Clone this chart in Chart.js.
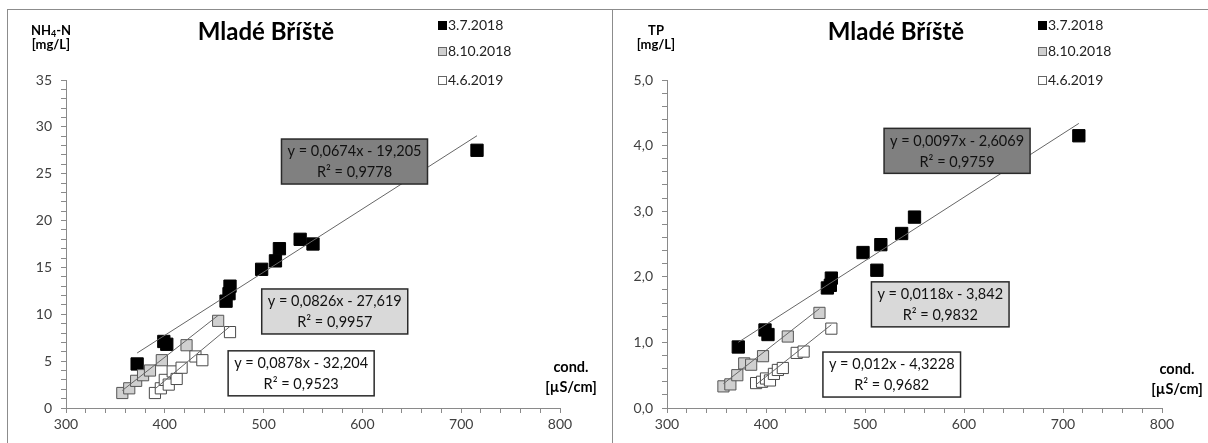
<!DOCTYPE html>
<html>
<head>
<meta charset="utf-8">
<script src="https://cdn.jsdelivr.net/npm/chart.js@4.4.1/dist/chart.umd.min.js"></script>
<style>
  body { margin: 0; background: #fff; width: 1208px; height: 443px; overflow: hidden; position: relative; }
  .panel { position: absolute; top: 9px; height: 440px; border-left: 1px solid #8c8c8c; border-top: 1px solid #8c8c8c; }
  #p1 { left: 7px; width: 604px; }
  #p2 { left: 612px; width: 600px; }
  canvas { position: absolute; left: 0; top: 0; }
</style>
</head>
<body>
<div class="panel" id="p1"><canvas id="c1" width="603" height="433"></canvas></div>
<div class="panel" id="p2"><canvas id="c2" width="595" height="433"></canvas></div>
<script>
// series (sampling dates) and conductivity / concentration readings
const seriesNames = ['3.7.2018', '8.10.2018', '4.6.2019'];

const condBlack = [372, 399, 402, 462, 465, 466, 498, 512, 516, 537, 550, 716];
const nh4Black  = [4.7, 7.1, 6.8, 11.4, 12.2, 13.0, 14.8, 15.7, 17.0, 18.0, 17.5, 27.5];
const tpBlack   = [0.93, 1.19, 1.12, 1.83, 1.87, 1.98, 2.37, 2.10, 2.49, 2.66, 2.91, 4.15];

const condGray = [357, 364, 371, 378, 385, 397, 422, 454];
const nh4Gray  = [1.6, 2.1, 2.9, 3.5, 4.0, 5.1, 6.7, 9.3];
const tpGray   = [0.33, 0.36, 0.50, 0.68, 0.66, 0.79, 1.09, 1.45];

const condWhite = [390, 396, 400, 404, 408, 412, 417, 431, 438, 466];
const nh4White  = [1.6, 2.1, 3.0, 2.5, 3.9, 3.1, 4.3, 5.5, 5.1, 8.1];
const tpWhite   = [0.38, 0.40, 0.45, 0.42, 0.52, 0.58, 0.61, 0.84, 0.86, 1.21];

// linear fits as printed in the chart
const nh4Slope = [0.0674, 0.0826, 0.0878];
const nh4Icpt  = [-19.205, -27.619, -32.204];
const nh4R2    = [0.9778, 0.9957, 0.9523];
const tpSlope  = [0.0097, 0.0118, 0.012];
const tpIcpt   = [-2.6069, -3.842, -4.3228];
const tpR2     = [0.9759, 0.9832, 0.9682];

// tick labels
const xMajor   = [300, 400, 500, 600, 700, 800];
const nh4Major = [0, 5, 10, 15, 20, 25, 30, 35];
const tpMajor  = [0, 1, 2, 3, 4, 5];

const FONT = 'Lato, "Open Sans", sans-serif';
const fills = ['#000000', '#d0d0d0', '#ffffff'];
const edges = ['#000000', '#555555', '#4a4a4a'];
const boxFills = ['#808080', '#d9d9d9', '#ffffff'];
const legendRows = [25, 51, 80];

const comma = n => String(n).replace('.', ',');

function scatterSet(xs, ys, i) {
    const r = i === 0 ? 8.7 : 7.9;
    return {
        type: 'scatter',
        label: seriesNames[i],
        data: xs.map((x, k) => ({ x, y: ys[k] })),
        pointStyle: 'rect',
        pointRadius: r,
        pointHoverRadius: r,
        backgroundColor: fills[i],
        borderColor: edges[i],
        borderWidth: 1,
        order: 3 - i
    };
}

function trendSet(xs, slope, icpt) {
    const a = Math.min(...xs), b = Math.max(...xs);
    return {
        type: 'line',
        data: [{ x: a, y: slope * a + icpt }, { x: b, y: slope * b + icpt }],
        borderColor: '#666666',
        borderWidth: 1,
        pointRadius: 0,
        fill: false,
        order: 0
    };
}

function makeDecor(g) {
    return {
        id: 'decor',
        afterDraw(chart) {
            const ctx = chart.ctx;
            const px = x => x - g.ox, py = y => y - g.oy;
            const xs = chart.scales.x, ys = chart.scales.y;
            ctx.save();
            ctx.fillStyle = '#000';
            ctx.textBaseline = 'middle';

            // title
            ctx.textAlign = 'center';
            ctx.font = 'bold 24px ' + FONT;
            ctx.fillText('Mladé Bříště', px(g.titleX), py(32));

            // y-axis title
            ctx.font = 'bold 13px ' + FONT;
            if (g.sub) {
                ctx.textAlign = 'left';
                const a = g.yTitle, b = g.sub, c = g.yTitleEnd;
                const wa = ctx.measureText(a).width, wc = ctx.measureText(c).width;
                ctx.font = 'bold 9px ' + FONT;
                const wb = ctx.measureText(b).width;
                let x0 = px(g.yTitleX) - (wa + wb + wc) / 2;
                ctx.font = 'bold 13px ' + FONT;
                ctx.fillText(a, x0, py(31));
                ctx.font = 'bold 9px ' + FONT;
                ctx.fillText(b, x0 + wa, py(34));
                ctx.font = 'bold 13px ' + FONT;
                ctx.fillText(c, x0 + wa + wb, py(31));
            } else {
                ctx.fillText(g.yTitle, px(g.yTitleX), py(31));
            }
            ctx.textAlign = 'center';
            ctx.fillText('[mg/L]', px(g.yTitleX), py(45));

            // x-axis title
            ctx.font = 'bold 14.5px ' + FONT;
            ctx.fillText('cond.', px(g.condX), py(g.condY));
            ctx.fillText('[µS/cm]', px(g.condX), py(g.condY + 20));

            // legend
            ctx.font = '14px ' + FONT;
            ctx.textAlign = 'left';
            seriesNames.forEach((name, i) => {
                const y = py(legendRows[i]);
                ctx.fillStyle = fills[i];
                ctx.fillRect(px(g.legX), y - 4, 9, 9);
                ctx.strokeStyle = i === 0 ? '#000' : '#666';
                ctx.lineWidth = 1;
                ctx.strokeRect(px(g.legX) + 0.5, y - 3.5, 8, 8);
                ctx.fillStyle = '#222';
                ctx.fillText(name, px(g.legX) + 10, y + 0.5);
            });

            // equation boxes
            ctx.font = '14.5px ' + FONT;
            ctx.textAlign = 'center';
            g.boxes.forEach((bx, i) => {
                const l1 = 'y = ' + comma(g.slope[i]) + 'x - ' + comma(Math.abs(g.icpt[i]));
                const l2 = 'R² = ' + comma(g.r2[i]);
                const w = Math.max(ctx.measureText(l1).width, ctx.measureText(l2).width) + 12;
                const h = 45;
                const cx = xs.getPixelForValue(bx[0]), cy = ys.getPixelForValue(bx[1]);
                ctx.fillStyle = boxFills[i];
                ctx.fillRect(cx - w / 2, cy - h / 2, w, h);
                ctx.strokeStyle = '#2a2a2a';
                ctx.lineWidth = 1.5;
                ctx.strokeRect(cx - w / 2, cy - h / 2, w, h);
                ctx.fillStyle = '#111';
                ctx.fillText(l1, cx, cy - 10);
                ctx.fillText(l2, cx, cy + 11);
            });
            ctx.restore();
        }
    };
}

function makeChart(id, g) {
    const tickFont = { family: FONT, size: 14 };
    new Chart(document.getElementById(id), {
        type: 'scatter',
        data: {
            datasets: [
                trendSet(condBlack, g.slope[0], g.icpt[0]),
                trendSet(condGray, g.slope[1], g.icpt[1]),
                trendSet(condWhite, g.slope[2], g.icpt[2]),
                scatterSet(condBlack, g.vals[0], 0),
                scatterSet(condGray, g.vals[1], 1),
                scatterSet(condWhite, g.vals[2], 2)
            ]
        },
        options: {
            responsive: false,
            animation: false,
            events: [],
            layout: { padding: { top: g.top, right: g.right, left: 0, bottom: 0 } },
            plugins: { legend: { display: false }, tooltip: { enabled: false } },
            scales: {
                x: {
                    type: 'linear', min: 300, max: 800,
                    ticks: {
                        stepSize: 20, autoSkip: false, maxRotation: 0, padding: 3,
                        color: '#404040', font: tickFont,
                        callback: v => xMajor.includes(v) ? String(v) : ''
                    },
                    grid: { drawOnChartArea: false, tickLength: 5, color: '#8a8a8a' },
                    border: { color: '#8a8a8a' },
                    afterFit: s => { s.height = 35; }
                },
                y: {
                    type: 'linear', min: 0, max: g.yMax,
                    ticks: {
                        stepSize: g.yStep, autoSkip: false, padding: 9,
                        color: '#404040', font: tickFont,
                        callback: v => {
                            const m = g.major.find(t => Math.abs(t - v) < 1e-6);
                            return m === undefined ? '' : g.fmt(m);
                        }
                    },
                    grid: { drawOnChartArea: false, tickLength: 5, color: '#8a8a8a' },
                    border: { color: '#8a8a8a' },
                    afterFit: s => { s.width = g.yw; }
                }
            }
        },
        plugins: [makeDecor(g)]
    });
}

makeChart('c1', {
    ox: 8, oy: 10, yw: 58, top: 70, right: 51,
    yMax: 35, yStep: 1, major: nh4Major, fmt: v => String(v),
    vals: [nh4Black, nh4Gray, nh4White],
    slope: nh4Slope, icpt: nh4Icpt, r2: nh4R2,
    boxes: [[592, 26.3], [572, 10.3], [538, 3.7]],
    titleX: 266, yTitle: 'NH', sub: '4', yTitleEnd: '-N', yTitleX: 51,
    condX: 571, condY: 367, legX: 438
});

makeChart('c2', {
    ox: 613, oy: 10, yw: 54, top: 70, right: 46,
    yMax: 5, yStep: 0.2, major: tpMajor, fmt: v => v.toFixed(1).replace('.', ','),
    vals: [tpBlack, tpGray, tpWhite],
    slope: tpSlope, icpt: tpIcpt, r2: tpR2,
    boxes: [[593, 3.92], [576, 1.58], [527, 0.51]],
    titleX: 896, yTitle: 'TP', sub: null, yTitleX: 656,
    condX: 1177, condY: 369, legX: 1038
});
</script>
</body>
</html>
